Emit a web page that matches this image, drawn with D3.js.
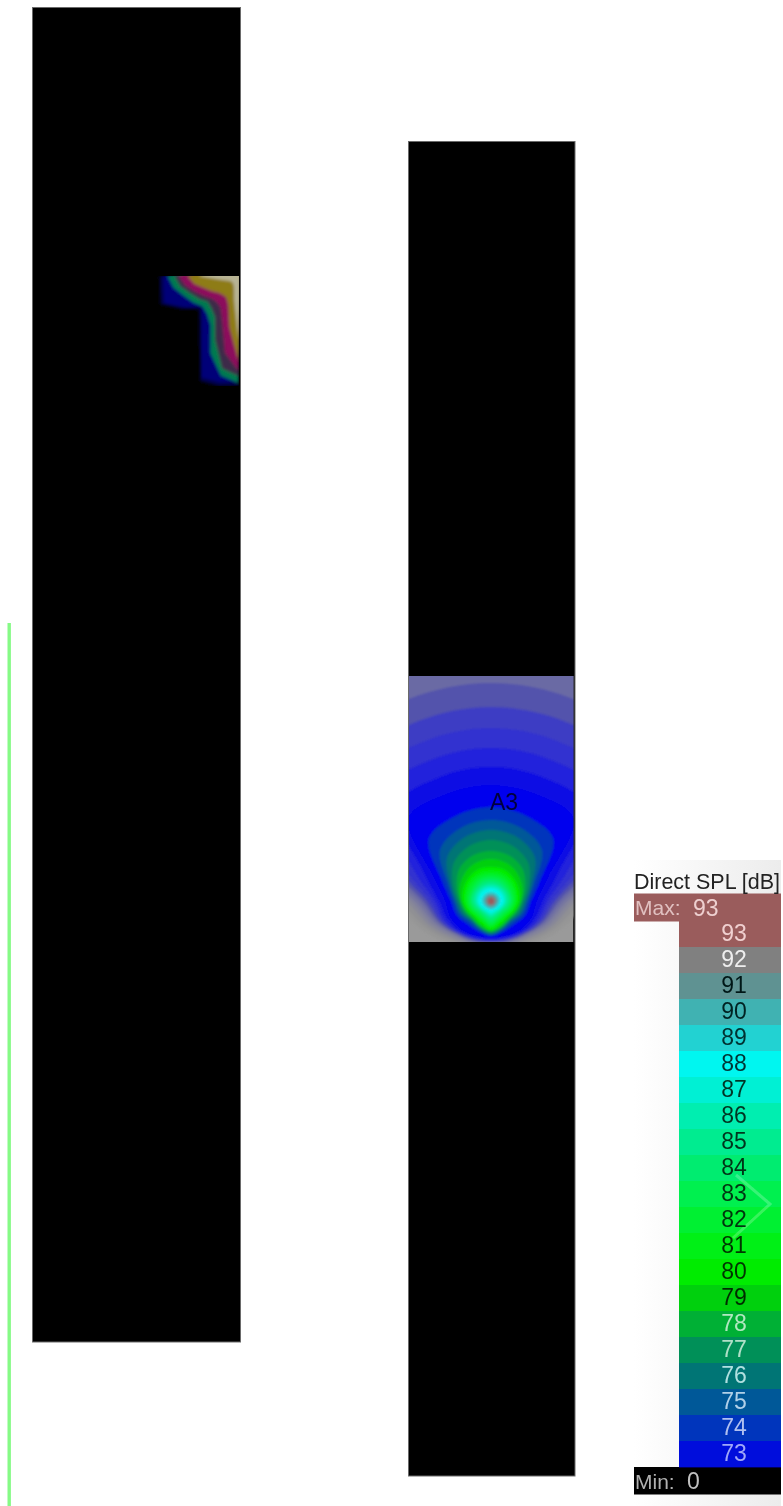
<!DOCTYPE html>
<html><head><meta charset="utf-8">
<script src="https://cdn.jsdelivr.net/npm/d3@7/dist/d3.min.js"></script>
<style>html,body{margin:0;padding:0;background:#fff}svg{display:block}</style>
</head><body><svg id="c" width="783" height="1506"></svg>
<script>
// ---- data ----
const legendLevels = [93,92,91,90,89,88,87,86,85,84,83,82,81,80,79,78,77,76,75,74,73];
const legendColors = ["#9a5c5c","#808080","#5f9292","#40b2b2","#20d2d2","#00f6f0","#00f0d4","#00eeb0","#00ec90","#00ec70","#00f050","#00f030","#00f018","#00ec00","#00d010","#00b034","#009058","#007474","#005898","#0034bc","#0010dc"];
const legendInk = ["#f0d0d0","#eeeeee","#041818","#032424","#023030","#013636","#013628","#013624","#01361e","#013618","#013612","#01360c","#013606","#013600","#002c06","#b0e8c0","#b0e0c8","#b0e0e0","#b0d0e8","#b0c0f0","#a0a8f8"];
const legendTitle = "Direct SPL [dB]";
const maxValue = 93, minValue = 0;

// A3 field: radius of each SPL contour around the source, by bearing (deg, 0 = up)
const a3Bearings = [0,22.5,45,67.5,90,112.5,135,157.5,180];
const a3Levels = [62,63,64,65,66,67,68,69,70,71,72,73,74,75,76,77,78,79,80,81,82,83,84,85,86,87,88,89,90,91,92,93];
const a3Colors = ["#969696","#909094","#888898","#80809c","#7676a0","#6a6aa4","#5252ac","#3c3cc4","#3030d0","#2020dc","#1010e4","#0000ee","#0034bc","#005898","#007474","#009058","#00b034","#00d010","#00ec00","#00f018","#00f030","#00f050","#00ec70","#00ec90","#00eeb0","#00f0d4","#00f6f0","#20d2d2","#40b2b2","#5f9292","#808080","#9a5c5c"];
const a3Radii = [
[340,340,340,230,100,75,60,49,44],
[320,320,320,210,92,70,56,48,43.5],
[300,300,300,190,85,66,53,47,43],
[280,280,280,170,80,63,51,46,42.5],
[260,260,260,150,76,60,49,45,42],
[240,240,240,135,72,58,48,44,41.5],
[218,218,218,120,68,56,47,43,41],
[194,194,194,108,64,54,46,42,40.5],
[173,173,173,96,60,52,45,41,40],
[153,153,153,84,56,50,44,40,39],
[134,134,134,72,52,47,43,39,38],
[116,116,117,62,46,44,41,38,37],
[94,92,88,53,40,37,33,33,35],
[81,79,72,47,37,34,30,31,34],
[71,69,62,44,35,32,28,30,33],
[61,59,53,41,33,30,27,29,32],
[50,49,45,37,31,28,26,28,31],
[42,41,38,34,30,27,25,27,30],
[34,34,32,30,28,25,23,25,29],
[30,30,29,27,26,24,22,23,27],
[27,27,26,25,24,22,20,21,25],
[24,24,23,22,22,20,18,19,23],
[21,21,20,20,20,18,16,17,20],
[18.5,18,18,18,18,16,14,15,17],
[16,16,16,16,15.5,14,13,13,15],
[14,14,14,14,14,12.5,11.5,11.5,13],
[12,12,12,12,12,11,10,10,11],
[9.5,9.5,9.5,9.5,9.5,9,8.5,8.5,9],
[7.5,7.5,7.5,7.5,7.5,7,7,7,7],
[6,6,6,6,6,5.5,5.5,5.5,5.5],
[4.5,4.5,4.5,4.5,4.5,4.5,4.5,4.5,4.5],
[3.2,3.2,3.2,3.2,3.2,3.2,3.2,3.2,3.2]
];
const a3Label = "A3";

// Corner field of the left panel: contour radius from the corner, by bearing (deg, 0 = left, 90 = down)
const cornerBearings = [0,10,20,30,40,50,60,70,80,90];
const cornerColors = ["#000048","#000078","#007a50","#3c2c48","#8c0a5c","#8e7c14","#b8b494"];
const cornerRadii = [
[79,80,83,66,52,61,78,112,112,110],
[75,76,79,62,48,57,74,108,108,106],
[71,66,58,52.5,47,49,56,82,101,107],
[64,59,51,45.5,40,42,47,68,94,100],
[60,54,46,40,35,34,36,48,78,95],
[51,45,36,30.6,26,24.4,24.6,30,52,85],
[40,20,13,10,9,9,10,13,25,65]
];

// ---- layout ----
const svg = d3.select("#c");
const defs = svg.append("defs");
[["b0",0.35],["b1",0.7],["b2",0.9],["b3",1.7]].forEach(([id,s])=>{
  defs.append("filter").attr("id",id).attr("x","-5%").attr("y","-5%").attr("width","110%").attr("height","110%")
    .append("feGaussianBlur").attr("stdDeviation",s);
});
const grad = defs.append("linearGradient").attr("id","lg");
grad.append("stop").attr("offset","0").attr("stop-color","#ffffff");
grad.append("stop").attr("offset","1").attr("stop-color","#ececec");

const root = svg.append("g").attr("filter","url(#b1)");

// green line
root.append("line").attr("x1",9.2).attr("x2",9.2).attr("y1",623).attr("y2",1512)
  .attr("stroke","#86fa86").attr("stroke-width",3.4);

// panels
function panel(x0,x1,y0,y1){
  root.append("rect").attr("x",x0).attr("y",y0).attr("width",x1-x0).attr("height",y1-y0)
    .attr("fill","#000").attr("stroke","#6a6a6a").attr("stroke-width",1);
}
panel(32.5,240.5,7.5,1342);
panel(408.5,575,141.5,1476);

const deg = Math.PI/180;
const rScale = d3.scaleLinear().domain([0,400]).range([0,400]);

// left panel corner field
const cornerX = 238.5, cornerY = 276;
defs.append("clipPath").attr("id","cp1").append("rect").attr("x",150).attr("y",cornerY).attr("width",cornerX-150+0.5).attr("height",110);
const cornerLine = d3.lineRadial().angle(d=>d[0]).radius(d=>rScale(d[1])).curve(d3.curveLinearClosed);
const cg = root.append("g").attr("clip-path","url(#cp1)").append("g").attr("filter","url(#b3)")
  .attr("transform",`translate(${cornerX},${cornerY})`);
cg.selectAll("path").data(cornerRadii).join("path")
  .attr("d",rs=>cornerLine([[12*deg,14],...rs.map((r,i)=>[(-90-cornerBearings[i])*deg,r])]))
  .attr("fill",(d,i)=>cornerColors[i]);

// A3 field
const srcX = 491, srcY = 901;
const fx0 = 409, fx1 = 573.5, fy0 = 676, fy1 = 942;
defs.append("clipPath").attr("id","cp2").append("rect").attr("x",fx0).attr("y",fy0).attr("width",fx1-fx0).attr("height",fy1-fy0);
const fld = root.append("g").attr("clip-path","url(#cp2)");
fld.append("rect").attr("x",fx0).attr("y",fy0).attr("width",fx1-fx0).attr("height",fy1-fy0).attr("fill","#9a9a9a");
const a3Line = d3.lineRadial().angle(d=>d[0]).radius(d=>rScale(d[1])).curve(d3.curveCatmullRomClosed.alpha(0.5));
fld.append("g").attr("filter","url(#b2)").attr("transform",`translate(${srcX},${srcY})`)
  .selectAll("path").data(a3Radii).join("path")
  .attr("d",rs=>{
    const right = rs.map((r,i)=>[a3Bearings[i]*deg,r]);
    const left = rs.slice(1,-1).reverse().map((r,i)=>[-a3Bearings[rs.length-2-i]*deg,r]);
    return a3Line([...right,...left]);
  })
  .attr("fill",(d,i)=>a3Colors[i]);

// legend boxes
const font = "Liberation Sans";
const lg = root.append("g");
lg.append("rect").attr("x",634).attr("y",860).attr("width",147).attr("height",646).attr("fill","url(#lg)");
const band = d3.scaleBand().domain(legendLevels).range([921,1467]);
const lColor = d3.scaleOrdinal().domain(legendLevels).range(legendColors);
const lInk = d3.scaleOrdinal().domain(legendLevels).range(legendInk);
lg.append("rect").attr("x",634).attr("y",893.5).attr("width",147).attr("height",28).attr("fill",legendColors[0]);
lg.append("rect").attr("x",634).attr("y",1467).attr("width",147).attr("height",27.5).attr("fill","#000");
lg.selectAll("rect.row").data(legendLevels).join("rect").attr("class","row")
  .attr("x",679).attr("width",102).attr("y",d=>band(d)).attr("height",band.bandwidth()+0.4).attr("fill",d=>lColor(d));
// faint slider chevron
lg.append("path").attr("d",d3.line()([[736,1175],[770,1204],[733,1238]])).attr("fill","none")
  .attr("stroke","#fff").attr("stroke-opacity",0.22).attr("stroke-width",3);

// text, lightly softened
const tx = svg.append("g").attr("filter","url(#b0)").attr("font-family",font);
tx.append("text").attr("x",504).attr("y",810).attr("text-anchor","middle")
  .attr("font-size",23).attr("fill","#06063c").text(a3Label);
tx.append("text").attr("x",634).attr("y",889).attr("font-size",21.5).attr("fill","#222")
  .attr("textLength",146).attr("lengthAdjust","spacingAndGlyphs").text(legendTitle);
tx.selectAll("text.row").data(legendLevels).join("text").attr("class","row")
  .attr("x",734).attr("y",d=>band(d)+band.bandwidth()/2+7).attr("text-anchor","middle")
  .attr("font-size",23).attr("fill",d=>lInk(d)).text(d=>d);
tx.append("text").attr("x",635).attr("y",915).attr("font-size",21).attr("fill","#e0c0c0").text("Max:");
tx.append("text").attr("x",693).attr("y",916).attr("font-size",23).attr("fill","#eed0d0").text(maxValue);
tx.append("text").attr("x",635).attr("y",1489).attr("font-size",21).attr("fill","#b0b0b0").text("Min:");
tx.append("text").attr("x",687).attr("y",1489).attr("font-size",23).attr("fill","#c0c0c0").text(minValue);
</script></body></html>
